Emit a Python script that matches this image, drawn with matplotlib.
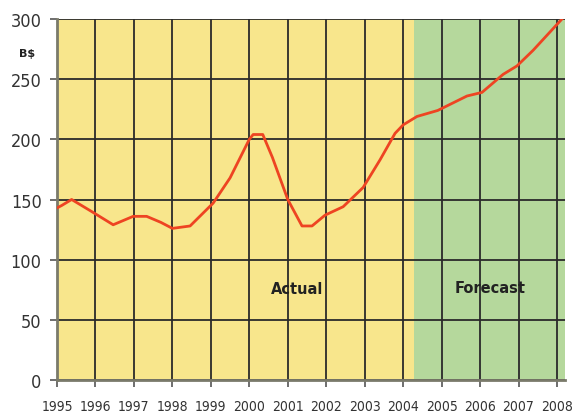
import matplotlib
matplotlib.use("Agg")
import matplotlib.pyplot as plt

# Annual value series (billions of dollars): actual through 2004, forecast after
years = [1995.0, 1995.12, 1995.38, 1995.9, 1996.46, 1996.98, 1997.33, 1997.7,
         1998.0, 1998.46, 1999.06, 1999.5, 2000.0, 2000.1, 2000.35, 2000.6,
         2001.0, 2001.37, 2001.63, 2001.97, 2002.44, 2002.96, 2003.4, 2003.79,
         2004.0, 2004.36, 2004.9, 2005.66, 2006.05, 2006.6, 2006.96, 2007.38, 2008.13]
values = [143, 145, 150, 140, 129, 136, 136, 131,
          126, 128, 147, 168, 200, 204, 204, 185,
          150, 128, 128, 137, 144, 160, 183, 205,
          212, 219, 224, 236, 239, 254, 261, 274, 300]

tick_years = list(range(1995, 2009))
y_ticks = [0, 50, 100, 150, 200, 250, 300]
forecast_start = 2004.28
x_end = 2008.21

fig = plt.figure(figsize=(5.76, 4.14), dpi=100)
ax = fig.add_axes([0.099, 0.0797, 0.882, 0.872])

ax.set_facecolor("#F8E68C")
ax.axvspan(forecast_start, x_end, color="#B5D89C", zorder=0, lw=0)

ax.set_xlim(1995, x_end)
ax.set_ylim(0, 300)
ax.set_xticks(tick_years)
ax.set_yticks(y_ticks)

ax.set_xticklabels([str(y) for y in tick_years], family="DejaVu Sans",
                   fontstretch="condensed", fontsize=10, color="#333333")
ax.set_yticklabels([str(v) for v in y_ticks], family="DejaVu Sans",
                   fontstretch="condensed", fontsize=13, color="#333333")

ax.grid(True, color="#2a2a2a", lw=1.3, zorder=1)
ax.set_axisbelow(True)
ax.tick_params(axis="both", length=5, width=1.2, color="#555555")
ax.tick_params(axis="x", pad=9)
ax.tick_params(axis="y", pad=6)

for side in ("top", "right"):
    ax.spines[side].set_visible(False)
for side in ("left", "bottom"):
    ax.spines[side].set_color("#7a7a6a")
    ax.spines[side].set_linewidth(2)

ax.plot(years, values, color="#EE4422", lw=2.0, zorder=3, solid_joinstyle="round")

ax.text(2001.23, 76, "Actual", ha="center", va="center", fontsize=10.5,
        fontweight="bold", color="#222222", family="DejaVu Sans")
ax.text(2006.26, 77, "Forecast", ha="center", va="center", fontsize=10.5,
        fontweight="bold", color="#222222", family="DejaVu Sans")

fig.text(27 / 576, 1 - 54 / 414, "B$", ha="center", va="center", fontsize=8,
         fontweight="bold", color="#222222")

fig.savefig("out.png", dpi=100)
